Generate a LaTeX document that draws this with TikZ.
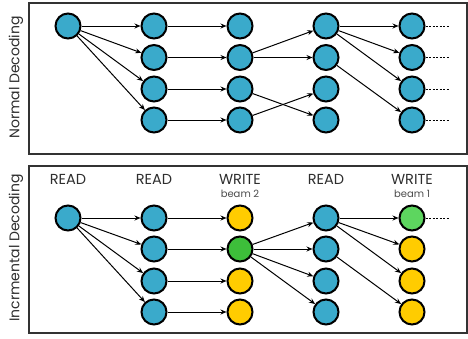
\documentclass[tikz,border=0pt]{standalone}
\usepackage{fontspec}
\setmainfont{Poppins}
\usetikzlibrary{arrows.meta}
\definecolor{nblue}{HTML}{3AAACB}
\definecolor{nyellow}{HTML}{FFCC00}
\definecolor{ngreen}{HTML}{3DBE3A}
\definecolor{nlgreen}{HTML}{5DD65F}
\definecolor{boxgray}{HTML}{333333}
\definecolor{txt}{HTML}{2E2E2E}
\begin{document}
\begin{tikzpicture}[x=1pt,y=-1pt,
  st/.style={circle,draw=black,line width=2pt,minimum size=25pt,inner sep=0pt},
  bl/.style={st,fill=nblue},
  ye/.style={st,fill=nyellow},
  gr/.style={st,fill=ngreen},
  lg/.style={st,fill=nlgreen},
  arr/.style={-{Stealth[length=6pt,width=5pt]},line width=1pt},
  dsh/.style={line width=1pt,dash pattern=on 2pt off 1.5pt},
  panel/.style={draw=boxgray,line width=1.5pt},
  side/.style={rotate=90,font=\fontsize{14}{16}\selectfont,text=txt},
  head/.style={font=\fontsize{14.5}{16}\selectfont,text=txt},
  sub/.style={font=\fontsize{10}{11}\selectfont,text=black!70}]
\useasboundingbox (0,0) rectangle (468,338);
% panels
\node[panel,minimum width=438pt,minimum height=151pt,inner sep=0pt] (p1) at (248,78.5) {};
\node[panel,minimum width=438pt,minimum height=167pt,inner sep=0pt] (p2) at (248,249.5) {};
\node[side] (l1) at (16,77.5) {Normal Decoding};
\node[side] (l2) at (16,248) {Incrmental Decoding};
% top nodes
\node[bl] (a0) at (68,26) {};
\foreach \c/\x in {b/154,c/240,d/326,e/412}{
  \foreach \r/\y in {1/26,2/57.5,3/89,4/120}{
    \node[bl] (\c\r) at (\x,\y) {};
  }
}
\foreach \r in {1,2,3,4}{
  \draw[arr] (a0) -- (b\r);
  \draw[arr] (b\r) -- (c\r);
}
\draw[arr] (c2) -- (d1);
\draw[arr] (c2) -- (d2);
\draw[arr] (c3) -- (d4);
\draw[arr] (c4) -- (d3);
\draw[arr] (d1) -- (e1);
\draw[arr] (d1) -- (e2);
\draw[arr] (d1) -- (e3);
\draw[arr] (d2) -- (e4);
\foreach \r/\y in {1/26,2/57.5,3/89,4/120}{
  \coordinate (t\r) at (450,\y);
  \draw[dsh] (e\r.east) -- (t\r);
}
% bottom nodes
\node[head] (h1) at (68,179.5) {READ};
\node[head] (h2) at (154,179.5) {READ};
\node[head] (h3) at (240,179.5) {WRITE};
\node[sub] (s3) at (240,194) {beam 2};
\node[head] (h4) at (326,179.5) {READ};
\node[head] (h5) at (412,179.5) {WRITE};
\node[sub] (s5) at (412,194) {beam 1};
\node[bl] (A0) at (68,218) {};
\foreach \r/\y in {1/218,2/249,3/281,4/312}{
  \node[bl] (B\r) at (154,\y) {};
  \node[bl] (D\r) at (326,\y) {};
}
\node[ye] (C1) at (240,218) {};
\node[gr] (C2) at (240,249) {};
\node[ye] (C3) at (240,281) {};
\node[ye] (C4) at (240,312) {};
\node[lg] (E1) at (412,218) {};
\node[ye] (E2) at (412,249) {};
\node[ye] (E3) at (412,281) {};
\node[ye] (E4) at (412,312) {};
\foreach \r in {1,2,3,4}{
  \draw[arr] (A0) -- (B\r);
  \draw[arr] (B\r) -- (C\r);
  \draw[arr] (C2) -- (D\r);
}
\draw[arr] (D1) -- (E1);
\draw[arr] (D1) -- (E2);
\draw[arr] (D1) -- (E3);
\draw[arr] (D2) -- (E4);
\coordinate (T1) at (450,218);
\draw[dsh] (E1.east) -- (T1);
\end{tikzpicture}
\end{document}
